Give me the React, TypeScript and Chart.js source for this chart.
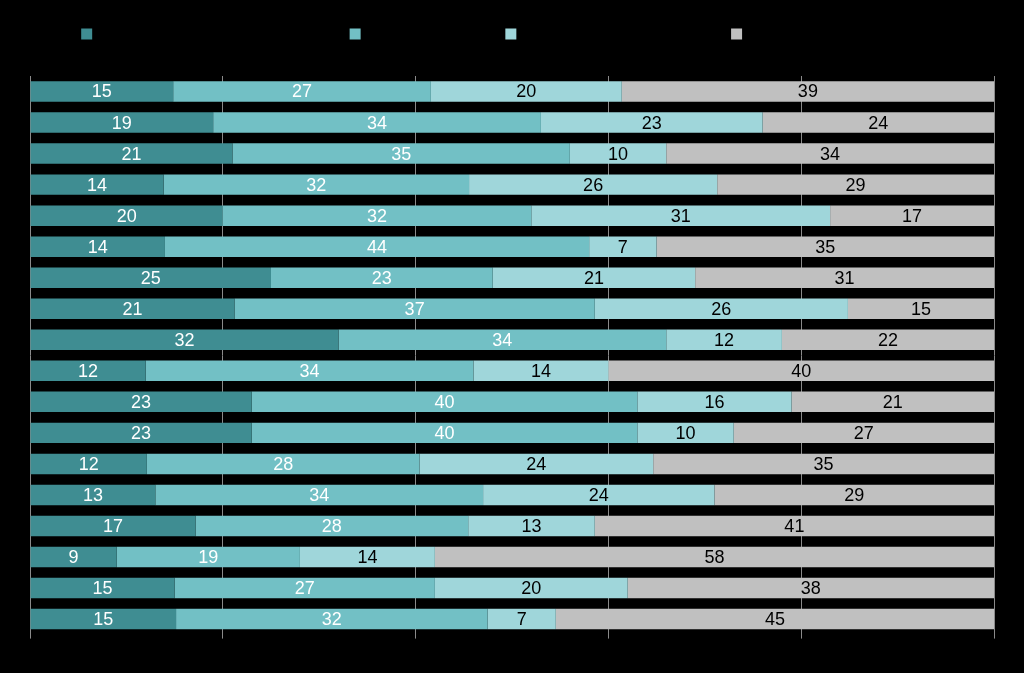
import React, { useEffect, useRef } from "react";
import { Chart, registerables } from "chart.js";

Chart.register(...registerables);

const categories = [
  "Item 1", "Item 2", "Item 3", "Item 4", "Item 5", "Item 6",
  "Item 7", "Item 8", "Item 9", "Item 10", "Item 11", "Item 12",
  "Item 13", "Item 14", "Item 15", "Item 16", "Item 17", "Item 18",
];

const seriesNames = [
  "Very satisfied and would recommend that (%)",
  "Moderately satisfied (%)",
  "Moderately dissatisfied with them (%)",
  "Very dissatisfied with the service (%)",
];

const verySatisfied = [15, 19, 21, 14, 20, 14, 25, 21, 32, 12, 23, 23, 12, 13, 17, 9, 15, 15];
const somewhatSatisfied = [27, 34, 35, 32, 32, 44, 23, 37, 34, 34, 40, 40, 28, 34, 28, 19, 27, 32];
const somewhatDissatisfied = [20, 23, 10, 26, 31, 7, 21, 26, 12, 14, 16, 10, 24, 24, 13, 14, 20, 7];
const veryDissatisfied = [39, 24, 34, 29, 17, 35, 31, 15, 22, 40, 21, 27, 35, 29, 41, 58, 38, 45];

const xTicks = [0, 20, 40, 60, 80, 100];

const colors = ["#3f8d92", "#72c0c5", "#9fd6da", "#c0c0c0"];
const labelColors = ["#ffffff", "#ffffff", "#000000", "#000000"];

export default function App() {
  const ref = useRef<HTMLCanvasElement | null>(null);

  useEffect(() => {
    const raw = [verySatisfied, somewhatSatisfied, somewhatDissatisfied, veryDissatisfied];
    const totals = categories.map((_, i) => raw.reduce((s, arr) => s + arr[i], 0));
    const datasets = raw.map((arr, k) => ({
      label: seriesNames[k],
      data: arr.map((v, i) => (v / totals[i]) * 100),
      rawValues: arr,
      backgroundColor: colors[k],
      borderWidth: 0,
      barPercentage: 0.66,
      categoryPercentage: 1,
    }));

    const labelPlugin = {
      id: "segLabels",
      afterDatasetsDraw(chart: any) {
        const ctx = chart.ctx;
        ctx.save();
        ctx.font = "18px Arial, 'Liberation Sans', sans-serif";
        ctx.textAlign = "center";
        ctx.textBaseline = "middle";
        chart.data.datasets.forEach((ds: any, k: number) => {
          const meta = chart.getDatasetMeta(k);
          meta.data.forEach((bar: any, i: number) => {
            const cx = (bar.x + bar.base) / 2;
            ctx.fillStyle = labelColors[k];
            ctx.fillText(String(ds.rawValues[i]), cx, bar.y + 1);
          });
        });
        ctx.restore();
      },
    };

    const legendSpace = {
      id: "legendSpace",
      beforeInit(chart: any) {
        const fit = chart.legend.fit;
        chart.legend.fit = function () {
          fit.bind(chart.legend)();
          this.height += 26;
        };
      },
    };

    const chart = new Chart(ref.current as HTMLCanvasElement, {
      type: "bar",
      data: { labels: categories, datasets: datasets as any },
      options: {
        indexAxis: "y",
        responsive: false,
        animation: false,
        layout: { padding: { left: 30, right: 30, top: 18, bottom: 14 } },
        plugins: {
          legend: {
            position: "top",
            labels: {
              boxWidth: 11,
              boxHeight: 11,
              color: "#000000",
              font: { size: 12 },
              padding: 10,
            },
          },
          tooltip: { enabled: false },
        },
        scales: {
          x: {
            stacked: true,
            min: 0,
            max: 100,
            afterBuildTicks(axis: any) {
              axis.ticks = xTicks.map((v) => ({ value: v }));
            },
            ticks: { color: "#000000", callback: (v: any) => v + "%" },
            grid: { color: "#8a8a8a", drawTicks: true, tickLength: 4 },
            border: { display: false },
          },
          y: {
            stacked: true,
            display: false,
          },
        },
      },
      plugins: [labelPlugin, legendSpace],
    });
    return () => chart.destroy();
  }, []);

  return (
    <div style={{ position: "fixed", left: 0, top: 0, width: 1024, height: 673, background: "#000" }}>
      <canvas ref={ref} width={1024} height={673} style={{ display: "block" }} />
    </div>
  );
}
